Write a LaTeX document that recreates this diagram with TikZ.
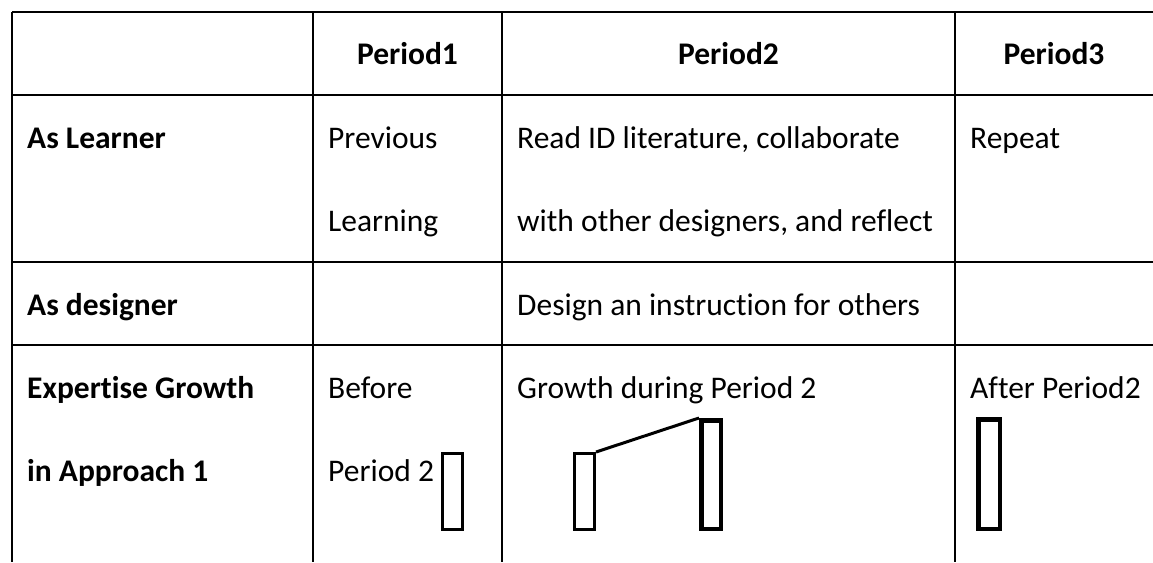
\documentclass[tikz,border=0pt]{standalone}
\usepackage{fontspec}
\setmainfont{Carlito}[Ligatures=NoCommon]
\usepackage{tikz}
\usetikzlibrary{positioning}
\tikzset{celltext/.style={anchor=base west,inner sep=0pt,font=\fontsize{31.5}{37}\selectfont},
         headtext/.style={anchor=base,inner sep=0pt,font=\fontsize{31.5}{37}\selectfont\bfseries},
         rowtext/.style={celltext,font=\fontsize{31.5}{37}\selectfont\bfseries},
         growbar/.style={draw,rectangle,inner sep=0pt,line width=3pt}}

\begin{document}
\begin{tikzpicture}[x=1pt,y=-1pt]
\useasboundingbox (0,0) rectangle (1153,562);

% grid
\draw[line width=1.2pt] (12,12) -- (1153,12);
\foreach \r in {95,262,345}
         {
           \draw[line width=1.2pt] (12,\r) -- (1153,\r);
         }
\foreach \c in {12,313,502,955}
         {
           \draw[line width=1.2pt] (\c,12) -- (\c,562);
         }

% header
\node[headtext] (hone) at (407.5,64) {Period1};
\node[headtext] (htwo) at (728.5,64) {Period2};
\node[headtext] (hthree) at (1054,64) {Period3};

% row labels
\node[rowtext] (learner) at (27,148) {As Learner};
\node[rowtext] (designer) at (27,315) {As designer};
\node[rowtext] (growth) at (27,398) {Expertise Growth};
\node[rowtext] (approach) at (27,481) {in Approach 1};

% period 1
\node[celltext] (prev) at (328,148) {Previous};
\node[celltext] (learning) at (328,231) {Learning};
\node[celltext] (before) at (328,398) {Before};
\node[celltext] (ptwo) at (328,481) {Period 2};

% period 2
\node[celltext] (readid) at (517,148) {Read ID literature, collaborate};
\node[celltext] (withother) at (517,231) {with other designers, and reflect};
\node[celltext] (design) at (517,315) {Design an instruction for others};
\node[celltext] (during) at (517,398) {Growth during Period 2};

% period 3
\node[celltext] (repeat) at (970,148) {Repeat};
\node[celltext] (after) at (970,398) {After Period2};

% bars
\node[growbar,minimum width=20pt,minimum height=76pt] (barone) at (452.5,491.5) {};
\node[growbar,minimum width=20pt,minimum height=76pt] (barlow) at (584.5,491.5) {};
\node[growbar,line width=4.5pt,minimum width=19.5pt,minimum height=108.5pt] (barhigh) at (711,474.5) {};
\node[growbar,line width=4.5pt,minimum width=21.5pt,minimum height=109.5pt] (barthree) at (989,474) {};

\draw[line width=3pt] (barlow.north east) -- (barhigh.north west);
\end{tikzpicture}
\end{document}
